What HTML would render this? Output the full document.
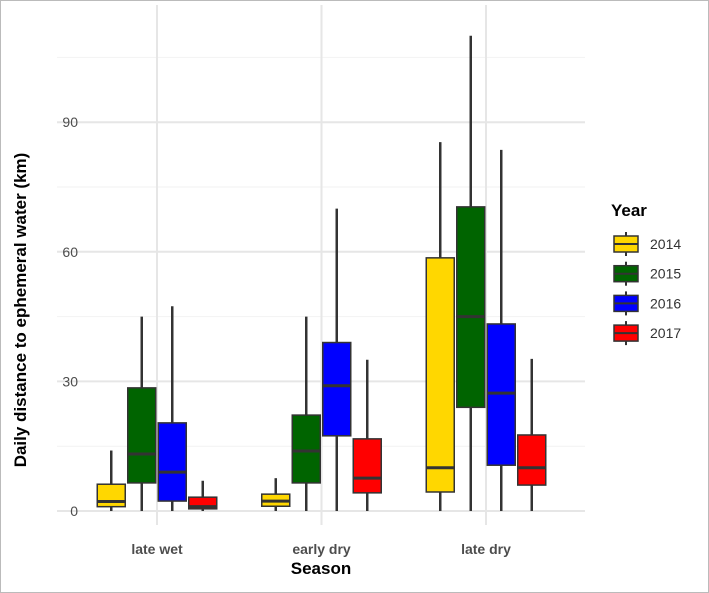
<!DOCTYPE html>
<html><head><meta charset="utf-8"><style>
body{margin:0;background:#fff}
svg{display:block;font-family:"Liberation Sans",Arial,sans-serif}
</style></head><body>
<svg id="chart" width="709" height="593">
<rect x="0.5" y="0.5" width="708" height="592" fill="#fff" stroke="#bbb"/>
<g id="grid"></g><g id="boxes"></g><g id="axes"></g><g id="legend"></g>
</svg>
<script>
const seasons=["late wet","early dry","late dry"];
const years=["2014","2015","2016","2017"];
const colors=["#FFD700","#006400","#0000FF","#FF0000"];
const yTicks=[0,30,60,90];
// [min, q1, median, q3, max] per season per year
const lateWet=[[0,1,2.2,6.2,14],[0,6.5,13.2,28.5,45],[0,2.3,9,20.4,47.4],[0,0.5,1,3.2,7]];
const earlyDry=[[0,1.1,2.3,3.9,7.6],[0,6.5,13.9,22.2,45],[0,17.4,29,39,70],[0,4.2,7.6,16.7,35]];
const lateDry=[[0,4.4,10,58.6,85.4],[0,24,45,70.4,110],[0,10.6,27.3,43.3,83.6],[0,6,10,17.6,35.2]];
const stats=[lateWet,earlyDry,lateDry];
const NS="http://www.w3.org/2000/svg";
const y=v=>511-v*4.32;
const xc=i=>157+i*164.5;
const mk=(p,t,a)=>{const e=document.createElementNS(NS,t);for(const k in a)e.setAttribute(k,a[k]);p.appendChild(e);return e;};
const G=document.getElementById('grid'),B=document.getElementById('boxes'),A=document.getElementById('axes'),L=document.getElementById('legend');
[15,45,75,105].forEach(v=>{const l=mk(G,'line',{x1:57,x2:585,y1:y(v),y2:y(v),stroke:'#f2f2f2','stroke-width':1});

});
yTicks.forEach(v=>{const l=mk(G,'line',{x1:57,x2:585,y1:y(v),y2:y(v),stroke:'#e6e6e6','stroke-width':2});


const t=mk(A,'text',{x:78,y:y(v)+5,'text-anchor':'end','font-size':14,fill:'#4d4d4d'});t.textContent=v;

});
seasons.forEach((s,i)=>{const l=mk(G,'line',{x1:xc(i),x2:xc(i),y1:5,y2:525,stroke:'#e6e6e6','stroke-width':2});


const t=mk(A,'text',{x:xc(i),y:554,'text-anchor':'middle','font-size':14,'font-weight':'bold',fill:'#4d4d4d'});t.textContent=s;


stats[i].forEach((st,j)=>{const cx=xc(i)+(j-1.5)*30.5,w=28;
const g=mk(B,'g',{});


mk(g,'line',{x1:cx,x2:cx,y1:y(st[0]),y2:y(st[4]),stroke:'#333','stroke-width':2.5});
mk(g,'rect',{x:cx-w/2,y:y(st[3]),width:w,height:y(st[1])-y(st[3]),fill:colors[j],stroke:'#333','stroke-width':1.5});
mk(g,'line',{x1:cx-w/2,x2:cx+w/2,y1:y(st[2]),y2:y(st[2]),stroke:'#333','stroke-width':3});});});
let t=mk(A,'text',{x:321,y:574,'text-anchor':'middle','font-size':17,'font-weight':'bold'});t.textContent='Season';

t=mk(A,'text',{x:0,y:0,'text-anchor':'middle','font-size':17,'font-weight':'bold',transform:'translate(26,310) rotate(-90)'});t.textContent='Daily distance to ephemeral water (km)';

t=mk(L,'text',{x:611,y:216,'font-size':17,'font-weight':'bold'});t.textContent='Year';

years.forEach((yr,j)=>{const cy=244+j*29.7;const g=mk(L,'g',{});


mk(g,'line',{x1:626,x2:626,y1:cy-12,y2:cy+12,stroke:'#333','stroke-width':2});
mk(g,'rect',{x:614,y:cy-8,width:24,height:16,fill:colors[j],stroke:'#333','stroke-width':1.5});
mk(g,'line',{x1:614,x2:638,y1:cy,y2:cy,stroke:'#333','stroke-width':2});
const tt=mk(g,'text',{x:650,y:cy+5,'font-size':14,fill:'#333'});tt.textContent=yr;});
</script>
</body></html>
